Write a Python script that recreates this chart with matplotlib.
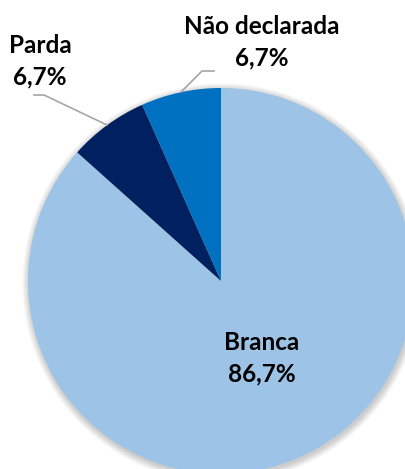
import matplotlib
matplotlib.use("Agg")
import matplotlib.pyplot as plt
from matplotlib.patches import Circle

labels = ["Branca", "Parda", "Não declarada"]
shares = [86.7, 6.7, 6.7]
colors = ["#9DC3E6", "#002060", "#0070C0"]

W, H = 405, 469
fig = plt.figure(figsize=(W / 100, H / 100), dpi=100)
ax = fig.add_axes([0, 0, 1, 1])

cx, cy, r = 221, H - 281, 193

# soft drop shadow behind the pie
for i in range(10):
    ax.add_patch(Circle((cx + 1, cy - 2), r + 0.5 + i * 0.7, color="#000000",
                        alpha=0.018, lw=0, zorder=0))

wedges, _ = ax.pie(shares, colors=colors, startangle=90, counterclock=False,
                   center=(cx, cy), radius=r, frame=True,
                   wedgeprops=dict(linewidth=0))
ax.set_xlim(0, W)
ax.set_ylim(0, H)
ax.set_aspect("equal")
ax.axis("off")

font = dict(family=["Lato", "DejaVu Sans"], fontweight="bold", fontsize=17.5,
            ha="center", va="center", color="black")

def label(x, y, name, pct):
    ax.text(x, H - y, name, **font)
    ax.text(x, H - y - 32, f"{pct:.1f}%".replace(".", ","), **font)

label(262, 342, labels[0], shares[0])
label(40, 45, labels[1], shares[1])
label(262, 26, labels[2], shares[2])

# leader lines
ax.plot([34, 44, 107], [H - 95, H - 95, H - 125], color="#A6A6A6", lw=1.2)
ax.plot([214, 202, 181], [H - 71, H - 71, H - 92], color="#A6A6A6", lw=1.2)

fig.savefig("out.png", dpi=100)
